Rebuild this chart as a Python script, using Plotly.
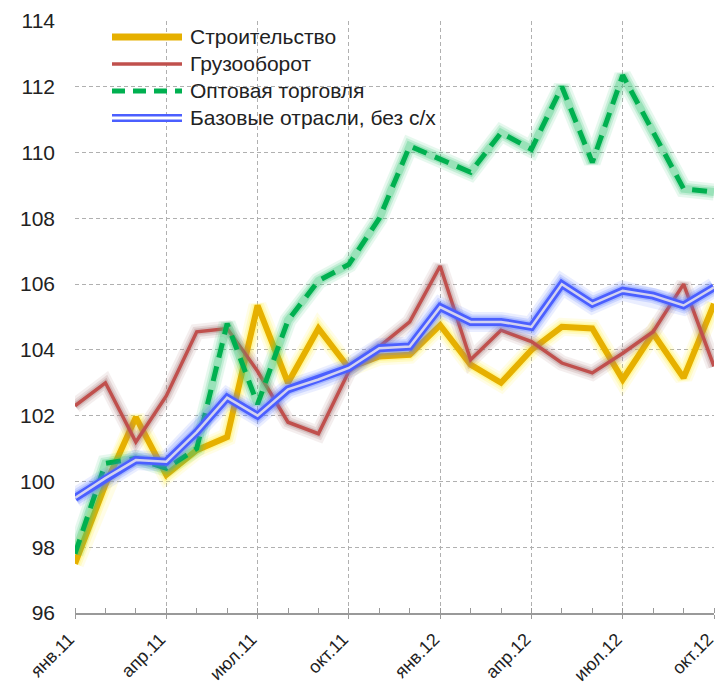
import plotly.graph_objects as go

# ---- data ----
months = ["янв.11", "фев.11", "мар.11", "апр.11", "май.11", "июн.11", "июл.11", "авг.11",
          "сен.11", "окт.11", "ноя.11", "дек.11", "янв.12", "фев.12", "мар.12", "апр.12",
          "май.12", "июн.12", "июл.12", "авг.12", "сен.12", "окт.12"]
tick_labels = ["янв.11", "апр.11", "июл.11", "окт.11", "янв.12", "апр.12", "июл.12", "окт.12"]

stroitelstvo = [97.5, 99.9, 101.95, 100.2, 100.95, 101.35, 105.35, 103.0, 104.65, 103.45, 103.8,
                103.85, 104.75, 103.55, 103.0, 104.0, 104.7, 104.65, 103.1, 104.5, 103.15, 105.4]
gruzooborot = [102.3, 103.0, 101.2, 102.6, 104.55, 104.65, 103.35, 101.8, 101.45, 103.35, 104.1,
               104.85, 106.55, 103.7, 104.6, 104.25, 103.6, 103.3, 103.9, 104.55, 106.0, 103.5]
optovaya = [97.8, 100.55, 100.7, 100.4, 101.0, 104.8, 102.35, 104.9, 106.1, 106.6, 108.0,
            110.2, 109.8, 109.4, 110.6, 110.1, 112.0, 109.7, 112.35, 110.6, 108.9, 108.8]
bazovye = [99.5, 100.1, 100.65, 100.6, 101.5, 102.55, 102.0, 102.8, 103.1, 103.45, 104.05,
           104.1, 105.3, 104.85, 104.85, 104.7, 106.0, 105.4, 105.8, 105.65, 105.35, 105.9]

series_names = ["Строительство", "Грузооборот", "Оптовая торговля", "Базовые отрасли, без с/х"]

x = list(range(len(months)))
tickvals = [months.index(t) for t in tick_labels]

fig = go.Figure()

def glow(y, color, width):
    for w, op in [(width + 12, 0.12), (width + 7, 0.2), (width + 3, 0.3)]:
        fig.add_trace(go.Scatter(x=x, y=y, mode="lines", showlegend=False, hoverinfo="skip",
                                 line=dict(color=color, width=w), opacity=op))

# Строительство
glow(stroitelstvo, "rgb(255,240,60)", 6)
fig.add_trace(go.Scatter(x=x, y=stroitelstvo, mode="lines", name=series_names[0], showlegend=False,
                         line=dict(color="rgb(230,176,0)", width=6)))
# Грузооборот
glow(gruzooborot, "rgb(170,120,120)", 3.5)
fig.add_trace(go.Scatter(x=x, y=gruzooborot, mode="lines", name=series_names[1], showlegend=False,
                         line=dict(color="rgb(192,80,77)", width=3.5)))
# Оптовая торговля
glow(optovaya, "rgb(60,200,120)", 5)
fig.add_trace(go.Scatter(x=x, y=optovaya, mode="lines", name=series_names[2], showlegend=False,
                         line=dict(color="rgb(0,176,80)", width=5, dash="15px,9px")))
# Базовые отрасли
glow(bazovye, "rgb(90,120,255)", 8)
fig.add_trace(go.Scatter(x=x, y=bazovye, mode="lines", name=series_names[3], showlegend=False,
                         line=dict(color="rgb(75,95,255)", width=8)))
fig.add_trace(go.Scatter(x=x, y=bazovye, mode="lines", showlegend=False, hoverinfo="skip",
                         line=dict(color="rgb(210,210,240)", width=2.5)))

# ---- manual legend (paper coords) ----
L, R, T, B = 75, 714, 21, 613
def px(xp):
    return (xp - L) / (R - L)
def py(yp):
    return (B - yp) / (B - T)

rows = [37, 64, 91, 118]
styles = [
    [dict(color="rgb(230,176,0)", width=7)],
    [dict(color="rgb(192,80,77)", width=3.5)],
    [dict(color="rgb(0,176,80)", width=5, dash="13px,8px")],
    [dict(color="rgb(75,95,255)", width=8), dict(color="white", width=3)],
]
for name, yrow, st in zip(series_names, rows, styles):
    for s in st:
        fig.add_shape(type="line", xref="paper", yref="paper",
                      x0=px(112), x1=px(182), y0=py(yrow), y1=py(yrow), line=s)
    fig.add_annotation(xref="paper", yref="paper", x=px(188), y=py(yrow), text=name,
                       showarrow=False, xanchor="left", yanchor="middle",
                       font=dict(family="Liberation Sans, Arial, sans-serif", size=21, color="#222222"))

grid = dict(gridcolor="#b0b0b0", gridwidth=1, griddash="4px,3px")

fig.update_layout(
    width=720, height=687,
    margin=dict(l=75, r=6, t=21, b=74),
    plot_bgcolor="white", paper_bgcolor="white",
    font=dict(family="Liberation Sans, Arial, sans-serif", color="#222222"),
    showlegend=False,
    xaxis=dict(range=[0, 21], tickmode="array", tickvals=tickvals, ticktext=tick_labels,
               tickangle=-45, tickfont=dict(size=18), showgrid=True, **grid,
               showline=True, linecolor="#999999", linewidth=1.5,
               ticks="outside", ticklen=4, tickcolor="#999999",
               minor=dict(dtick=1, tick0=0, ticks="inside", ticklen=5, tickcolor="#999999", showgrid=False),
               zeroline=False, automargin=False, ticklabeloverflow="allow",
               ticklabelshift=-6, ticklabelstandoff=3),
    yaxis=dict(range=[96, 114], dtick=2, tick0=96, tickfont=dict(size=21),
               showgrid=True, **grid, zeroline=False, showline=False, ticks="",
               ticklabelstandoff=19, automargin=False),
)

fig.write_html("out.html", config={"displayModeBar": False},
               post_script="document.body.style.margin='0';document.body.style.padding='0';")
